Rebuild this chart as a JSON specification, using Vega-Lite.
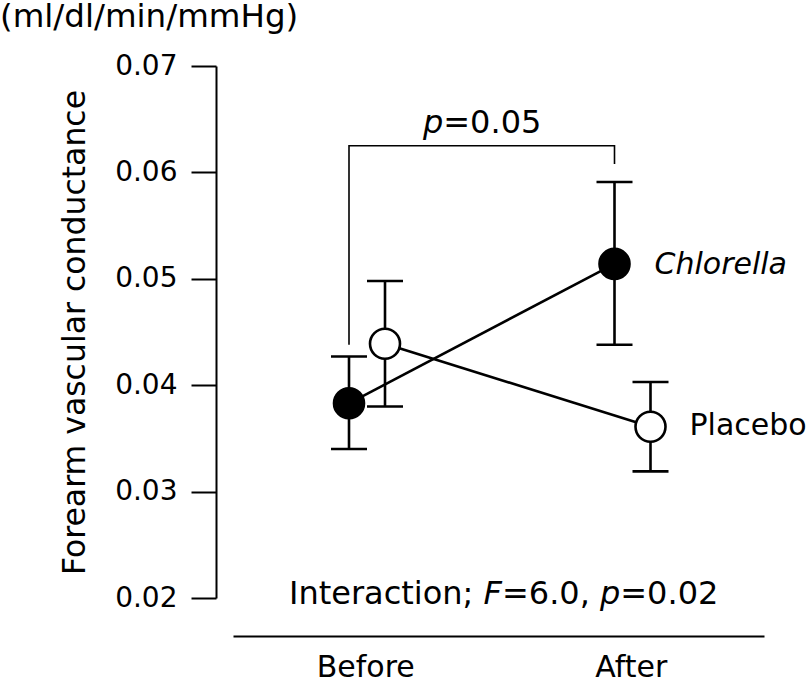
{
  "$schema": "https://vega.github.io/schema/vega-lite/v6.json",
  "width": 531,
  "height": 532,
  "padding": {"left": 0, "top": 0, "right": 0, "bottom": 0},
  "title": {"text": "(ml/dl/min/mmHg)", "anchor": "start", "frame": "group", "dx": -233, "offset": 19, "fontSize": 32.5, "fontWeight": "normal", "font": "DejaVu Sans", "color": "black"},
  "config": {
    "view": {"stroke": null},
    "axis": {"labelFont": "DejaVu Sans", "titleFont": "DejaVu Sans", "grid": false, "domainColor": "black", "tickColor": "black", "labelColor": "black", "titleColor": "black"},
    "text": {"font": "DejaVu Sans", "color": "black"}
  },
  "datasets": {
    "means": [
      {"time": "Before", "group": "Chlorella", "mean": 0.0383, "lo": 0.0340, "hi": 0.0427},
      {"time": "After", "group": "Chlorella", "mean": 0.0514, "lo": 0.0438, "hi": 0.0591},
      {"time": "Before", "group": "Placebo", "mean": 0.0439, "lo": 0.0380, "hi": 0.0498},
      {"time": "After", "group": "Placebo", "mean": 0.0361, "lo": 0.0319, "hi": 0.0403}
    ],
    "bracket": [
      {"time": "Before", "group": "Chlorella", "y": 0.0438, "step": 1},
      {"time": "Before", "group": "Chlorella", "y": 0.0625, "step": 2},
      {"time": "After", "group": "Chlorella", "y": 0.0625, "step": 3},
      {"time": "After", "group": "Chlorella", "y": 0.0608, "step": 4}
    ],
    "notes": [
      {"piece": "p1", "label": "p", "time": "Before", "group": "Chlorella", "y": 0.0637},
      {"piece": "p2", "label": "=0.05", "time": "Before", "group": "Chlorella", "y": 0.0637},
      {"piece": "i1", "label": "Interaction;", "time": "Before", "group": "Chlorella", "y": 0.02},
      {"piece": "i2", "label": "F", "time": "Before", "group": "Chlorella", "y": 0.02},
      {"piece": "i3", "label": "=6.0,", "time": "Before", "group": "Chlorella", "y": 0.02},
      {"piece": "i4", "label": "p", "time": "Before", "group": "Chlorella", "y": 0.02},
      {"piece": "i5", "label": "=0.02", "time": "Before", "group": "Chlorella", "y": 0.02}
    ]
  },
  "encoding": {
    "x": {
      "field": "time", "type": "nominal",
      "scale": {"domain": ["Before", "After"], "paddingInner": 0, "paddingOuter": 0},
      "axis": {"title": null, "labelAngle": 0, "ticks": false, "domainWidth": 2, "offset": 38, "labelFontSize": 30, "labelPadding": 16}
    },
    "xOffset": {
      "field": "group", "type": "nominal",
      "scale": {"type": "point", "domain": ["Chlorella", "Placebo"], "range": [116, 152], "padding": 0}
    }
  },
  "layer": [
    {
      "data": {"name": "bracket"},
      "mark": {"type": "line", "color": "black", "strokeWidth": 1.6},
      "encoding": {
        "y": {"field": "y", "type": "quantitative", "scale": {"domain": [0.02, 0.07], "zero": false, "nice": false},
          "axis": {"values": [0.02, 0.03, 0.04, 0.05, 0.06, 0.07], "format": ".2f", "tickSize": 25, "tickWidth": 2, "domainWidth": 2, "labelFontSize": 28, "labelPadding": 14, "offset": 17,
            "title": "Forearm vascular conductance", "titleFontSize": 31.5, "titleFontWeight": "normal", "titlePadding": 23}},
        "order": {"field": "step", "type": "quantitative"}
      }
    },
    {
      "data": {"name": "means"},
      "mark": {"type": "line", "color": "black", "strokeWidth": 2.6},
      "encoding": {
        "y": {"field": "mean", "type": "quantitative"},
        "detail": {"field": "group"}
      }
    },
    {
      "data": {"name": "means"},
      "mark": {"type": "rule", "color": "black", "strokeWidth": 2.6},
      "encoding": {
        "y": {"field": "lo", "type": "quantitative"},
        "y2": {"field": "hi"}
      }
    },
    {
      "data": {"name": "means"},
      "mark": {"type": "tick", "orient": "horizontal", "size": 36, "thickness": 2.6, "color": "black", "opacity": 1},
      "encoding": {"y": {"field": "lo", "type": "quantitative"}}
    },
    {
      "data": {"name": "means"},
      "mark": {"type": "tick", "orient": "horizontal", "size": 36, "thickness": 2.6, "color": "black", "opacity": 1},
      "encoding": {"y": {"field": "hi", "type": "quantitative"}}
    },
    {
      "data": {"name": "means"},
      "mark": {"type": "point", "shape": "circle", "filled": true, "size": 900, "stroke": "black", "strokeWidth": 2.6, "opacity": 1},
      "encoding": {
        "y": {"field": "mean", "type": "quantitative"},
        "fill": {"field": "group", "type": "nominal", "scale": {"domain": ["Chlorella", "Placebo"], "range": ["black", "white"]}, "legend": null}
      }
    },
    {
      "data": {"name": "means"},
      "transform": [{"filter": "datum.time === 'After' && datum.group === 'Chlorella'"}],
      "mark": {"type": "text", "align": "left", "baseline": "alphabetic", "dx": 40, "dy": 10, "fontSize": 30, "fontStyle": "italic"},
      "encoding": {"y": {"field": "mean", "type": "quantitative"}, "text": {"field": "group"}}
    },
    {
      "data": {"name": "means"},
      "transform": [{"filter": "datum.time === 'After' && datum.group === 'Placebo'"}],
      "mark": {"type": "text", "align": "left", "baseline": "alphabetic", "dx": 39, "dy": 8, "fontSize": 30},
      "encoding": {"y": {"field": "mean", "type": "quantitative"}, "text": {"field": "group"}}
    },
    {
      "data": {"name": "notes"},
      "transform": [{"filter": "datum.piece === 'p1'"}],
      "mark": {"type": "text", "align": "left", "baseline": "alphabetic", "dx": 74, "fontSize": 32, "fontStyle": "italic"},
      "encoding": {"y": {"field": "y", "type": "quantitative"}, "text": {"field": "label"}}
    },
    {
      "data": {"name": "notes"},
      "transform": [{"filter": "datum.piece === 'p2'"}],
      "mark": {"type": "text", "align": "left", "baseline": "alphabetic", "dx": 94.3, "fontSize": 32},
      "encoding": {"y": {"field": "y", "type": "quantitative"}, "text": {"field": "label"}}
    },
    {
      "data": {"name": "notes"},
      "transform": [{"filter": "datum.piece === 'i1'"}],
      "mark": {"type": "text", "align": "left", "baseline": "alphabetic", "dx": -60, "dy": 6, "fontSize": 32},
      "encoding": {"y": {"field": "y", "type": "quantitative"}, "text": {"field": "label"}}
    },
    {
      "data": {"name": "notes"},
      "transform": [{"filter": "datum.piece === 'i2'"}],
      "mark": {"type": "text", "align": "left", "baseline": "alphabetic", "dx": 134.6, "dy": 6, "fontSize": 32, "fontStyle": "italic"},
      "encoding": {"y": {"field": "y", "type": "quantitative"}, "text": {"field": "label"}}
    },
    {
      "data": {"name": "notes"},
      "transform": [{"filter": "datum.piece === 'i3'"}],
      "mark": {"type": "text", "align": "left", "baseline": "alphabetic", "dx": 153, "dy": 6, "fontSize": 32},
      "encoding": {"y": {"field": "y", "type": "quantitative"}, "text": {"field": "label"}}
    },
    {
      "data": {"name": "notes"},
      "transform": [{"filter": "datum.piece === 'i4'"}],
      "mark": {"type": "text", "align": "left", "baseline": "alphabetic", "dx": 251, "dy": 6, "fontSize": 32, "fontStyle": "italic"},
      "encoding": {"y": {"field": "y", "type": "quantitative"}, "text": {"field": "label"}}
    },
    {
      "data": {"name": "notes"},
      "transform": [{"filter": "datum.piece === 'i5'"}],
      "mark": {"type": "text", "align": "left", "baseline": "alphabetic", "dx": 271.3, "dy": 6, "fontSize": 32},
      "encoding": {"y": {"field": "y", "type": "quantitative"}, "text": {"field": "label"}}
    }
  ]
}
